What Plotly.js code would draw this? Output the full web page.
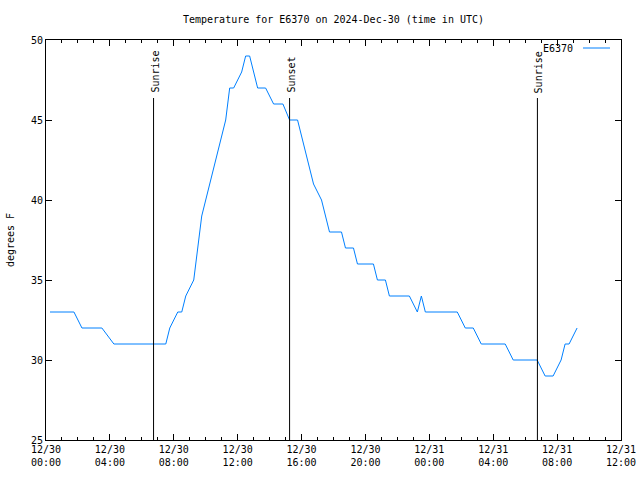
<!DOCTYPE html>
<html>
<head>
<meta charset="utf-8">
<script src="https://cdn.plot.ly/plotly-3.0.1.min.js"></script>
<style>html,body{margin:0;padding:0;background:#fff;}#chart{width:640px;height:480px;}</style>
</head>
<body>
<div id="chart"></div>
<script>
const seriesName = 'E6370';
const times = [
  '2024-12-30 00:15','2024-12-30 01:45','2024-12-30 02:15','2024-12-30 03:30','2024-12-30 04:15',
  '2024-12-30 07:30','2024-12-30 07:45','2024-12-30 08:15','2024-12-30 08:30','2024-12-30 08:45',
  '2024-12-30 09:15','2024-12-30 09:45','2024-12-30 11:15','2024-12-30 11:30','2024-12-30 11:45',
  '2024-12-30 12:15','2024-12-30 12:30','2024-12-30 12:45','2024-12-30 13:15','2024-12-30 13:45',
  '2024-12-30 14:15','2024-12-30 14:50','2024-12-30 15:15','2024-12-30 15:45','2024-12-30 16:45',
  '2024-12-30 17:15','2024-12-30 17:45','2024-12-30 18:30','2024-12-30 18:45','2024-12-30 19:15',
  '2024-12-30 19:30','2024-12-30 20:30','2024-12-30 20:45','2024-12-30 21:15','2024-12-30 21:30',
  '2024-12-30 22:45','2024-12-30 23:15','2024-12-30 23:30','2024-12-30 23:45','2024-12-31 01:45',
  '2024-12-31 02:15','2024-12-31 02:45','2024-12-31 03:15','2024-12-31 04:45','2024-12-31 05:15',
  '2024-12-31 06:45','2024-12-31 07:15','2024-12-31 07:45','2024-12-31 08:15','2024-12-31 08:30',
  '2024-12-31 08:45','2024-12-31 09:15'
];
const temps = [
  33,33,32,32,31,
  31,32,33,33,34,
  35,39,45,47,47,
  48,49,49,47,47,
  46,46,45,45,41,
  40,38,38,37,37,
  36,36,35,35,34,
  34,33,34,33,33,
  32,32,31,31,30,
  30,29,29,30,31,
  31,32
];
const eventTimes = ['2024-12-30 06:44','2024-12-30 15:15','2024-12-31 06:46'];
const eventLabels = ['Sunrise','Sunset','Sunrise'];
const tickVals = ['2024-12-30 00:00','2024-12-30 04:00','2024-12-30 08:00','2024-12-30 12:00','2024-12-30 16:00',
  '2024-12-30 20:00','2024-12-31 00:00','2024-12-31 04:00','2024-12-31 08:00','2024-12-31 12:00'];
const tickText = ['12/30<br>00:00','12/30<br>04:00','12/30<br>08:00','12/30<br>12:00','12/30<br>16:00',
  '12/30<br>20:00','12/31<br>00:00','12/31<br>04:00','12/31<br>08:00','12/31<br>12:00'];
const yTicks = [25,30,35,40,45,50];
const titleText = 'Temperature for E6370 on 2024-Dec-30 (time in UTC)';
const yTitle = 'degrees F';

const FONT = 'DejaVu Sans Mono, monospace';
const lineColor = '#0080ff';
const eventTop = 0.855;

const shapes = eventTimes.map(t => ({
  type: 'line', xref: 'x', yref: 'paper', x0: t, x1: t, y0: 0, y1: eventTop,
  line: {color: '#000', width: 1}
}));
shapes.push({type: 'line', xref: 'paper', yref: 'paper', x0: (583-46)/575, x1: (610-46)/575,
  y0: (440-48)/400, y1: (440-48)/400, line: {color: lineColor, width: 1}});

const annotations = eventTimes.map((t, i) => ({
  x: t, xref: 'x', y: eventTop, yref: 'paper', text: eventLabels[i], showarrow: false,
  textangle: -90, xanchor: 'center', yanchor: 'bottom', yshift: 3, xshift: 1,
  font: {family: FONT, size: 10, color: '#000'}
}));
annotations.push({x: (575-46)/575, xref: 'paper', y: (440-49)/400, yref: 'paper', text: seriesName,
  showarrow: false, xanchor: 'right', yanchor: 'middle', font: {family: FONT, size: 10, color: '#000'}});

const trace = {
  x: times, y: temps, type: 'scatter', mode: 'lines', name: seriesName,
  line: {color: lineColor, width: 1}, showlegend: false
};

const layout = {
  width: 640, height: 480,
  margin: {l: 46, r: 19, t: 40, b: 40},
  paper_bgcolor: '#fff', plot_bgcolor: '#fff',
  font: {family: FONT, size: 10, color: '#000'},
  title: {text: titleText, font: {family: FONT, size: 10, color: '#000'},
    xref: 'paper', x: 0.5, xanchor: 'center', yref: 'container', y: 1 - 19/480, yanchor: 'middle'},
  xaxis: {
    type: 'date', range: ['2024-12-30 00:00', '2024-12-31 12:00'],
    tickmode: 'array', tickvals: tickVals, ticktext: tickText,
    ticks: 'inside', ticklen: 6, tickwidth: 1, tickcolor: '#000',
    showline: true, linecolor: '#000', linewidth: 1, mirror: 'ticks',
    showgrid: false, zeroline: false,
    minor: {dtick: 3600000, tick0: '2024-12-30 00:00', ticks: 'inside', ticklen: 3, tickcolor: '#000', showgrid: false},
    tickfont: {family: FONT, size: 10, color: '#000'}
  },
  yaxis: {
    range: [25, 50], tickmode: 'array', tickvals: yTicks,
    ticks: 'inside', ticklen: 6, tickwidth: 1, tickcolor: '#000',
    showline: true, linecolor: '#000', linewidth: 1, mirror: 'ticks',
    showgrid: false, zeroline: false,
    tickfont: {family: FONT, size: 10, color: '#000'},
    title: {text: yTitle, font: {family: FONT, size: 10, color: '#000'}, standoff: 14}
  },
  shapes: shapes,
  annotations: annotations,
  showlegend: false
};

Plotly.newPlot('chart', [trace], layout, {displayModeBar: false, staticPlot: true});
</script>
</body>
</html>
